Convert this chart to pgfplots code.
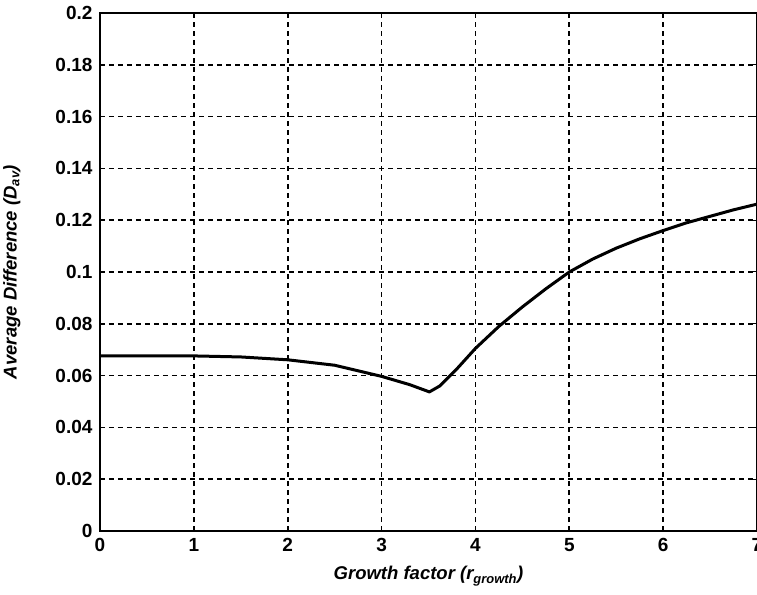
\documentclass[border=0pt]{standalone}
\usepackage{fontspec}
\setmainfont{Liberation Sans}
\usepackage{pgfplots}
\pgfplotsset{compat=1.18}
\begin{document}
\begin{tikzpicture}[x=1pt,y=1pt]
\useasboundingbox (-100,-63) rectangle (657,531);
\begin{axis}[
  at={(0,0)}, anchor=south west,
  scale only axis, width=657pt, height=518pt,
  xmin=0, xmax=7, ymin=0, ymax=0.2,
  xtick={0,1,...,7},
  ytick={0,0.02,...,0.2},
  scaled y ticks=false,
  /pgf/number format/assume math mode=true,
  yticklabel style={/pgf/number format/fixed, /pgf/number format/precision=2, font=\fontsize{19}{19}\selectfont\bfseries, xshift=-4pt},
  xticklabel style={font=\fontsize{19}{19}\selectfont\bfseries, yshift=-4pt},
  grid=major,
  major grid style={black, line width=1.6pt, dash pattern=on 5pt off 4pt},
  axis line style={black, line width=1.8pt},
  tick align=inside,
  major tick length=4pt,
  tick style={black, line width=1pt},
  xlabel={\textit{Growth factor (r\textsubscript{growth})}},
  ylabel={\textit{Average Difference (D\textsubscript{av})}},
  label style={font=\fontsize{18.5}{18.5}\selectfont\bfseries},
  xlabel style={at={(axis description cs:0.5,-0.087)}, anchor=center},
  ylabel style={at={(axis description cs:-0.134,0.5)}, anchor=center},
]
\addplot[black, line width=3pt, line join=round] coordinates {
(0,0.0676) (0.5,0.0676) (1,0.0676) (1.5,0.0672) (2,0.0661) (2.5,0.0640) (3,0.0597) (3.3,0.0565) (3.51,0.0537)
(3.62,0.0560) (3.8,0.0625) (4,0.0705) (4.25,0.0790) (4.5,0.0865) (4.75,0.0935) (5,0.1000) (5.25,0.1050) (5.5,0.1092) (5.75,0.1128) (6,0.1160) (6.25,0.1190) (6.5,0.1215) (6.75,0.1240) (7,0.1262)
};
\end{axis}
\end{tikzpicture}
\end{document}
